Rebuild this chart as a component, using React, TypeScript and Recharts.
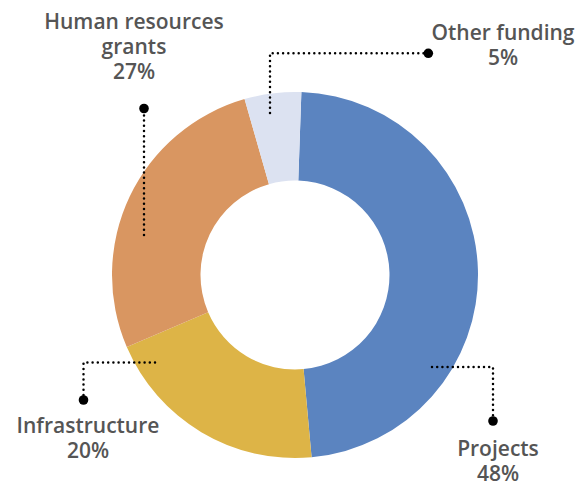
import { PieChart, Pie, Cell } from "recharts";

const categories = ["Projects", "Infrastructure", "Human resources\ngrants", "Other funding"];
const shares = [48, 20, 27, 5];
const colors = ["#5B84C0", "#DDB447", "#D99661", "#DCE2F1"];

const data = categories.map((name, i) => ({ name, value: shares[i] }));

// leader line geometry, offsets from the pie centre
const leaders = [
  { path: [[137, 92], [198, 92], [198, 146]], labelX: 203, labelY: 181 },
  { path: [[-140, 87.5], [-211.5, 87.5], [-211.5, 125]], labelX: -207, labelY: 158 },
  { path: [[-151, -40], [-151, -166.5]], labelX: -161, labelY: -246 },
  { path: [[-25, -162], [-25, -221.7], [133.3, -221.7]], labelX: 208, labelY: -235 },
];

const FONT = "'Open Sans', Roboto, sans-serif";

function renderLabel(props: any) {
  const { cx, cy, index, name, value } = props;
  const l = leaders[index];
  const pts = l.path.map(([x, y]) => `${cx + x},${cy + y}`).join(" ");
  const [ex, ey] = l.path[l.path.length - 1];
  const lines = [...String(name).split("\n"), `${value}%`];
  return (
    <g key={`lbl-${index}`}>
      <polyline
        points={pts}
        fill="none"
        stroke="#000"
        strokeWidth={2.5}
        strokeDasharray="0 5.2"
        strokeLinecap="round"
      />
      <circle cx={cx + ex} cy={cy + ey} r={4.8} fill="#000" />
      <text
        x={cx + l.labelX}
        y={cy + l.labelY}
        textAnchor="middle"
        fill="#555555"
        fontFamily={FONT}
        fontSize={21}
        fontWeight={600}
      >
        {lines.map((t, i) => (
          <tspan key={i} x={cx + l.labelX} dy={i === 0 ? 0 : 25}>
            {t}
          </tspan>
        ))}
      </text>
    </g>
  );
}

export default function App() {
  return (
    <div style={{ position: "absolute", left: 0, top: 0 }}>
      <PieChart width={575} height={484} margin={{ top: 0, right: 0, bottom: 0, left: 0 }}>
        <Pie
          data={data}
          dataKey="value"
          nameKey="name"
          cx={295}
          cy={275}
          innerRadius={94.5}
          outerRadius={183}
          startAngle={88}
          endAngle={-272}
          stroke="none"
          labelLine={false}
          label={renderLabel}
          isAnimationActive={false}
        >
          {data.map((d, i) => (
            <Cell key={d.name} fill={colors[i]} />
          ))}
        </Pie>
      </PieChart>
    </div>
  );
}
